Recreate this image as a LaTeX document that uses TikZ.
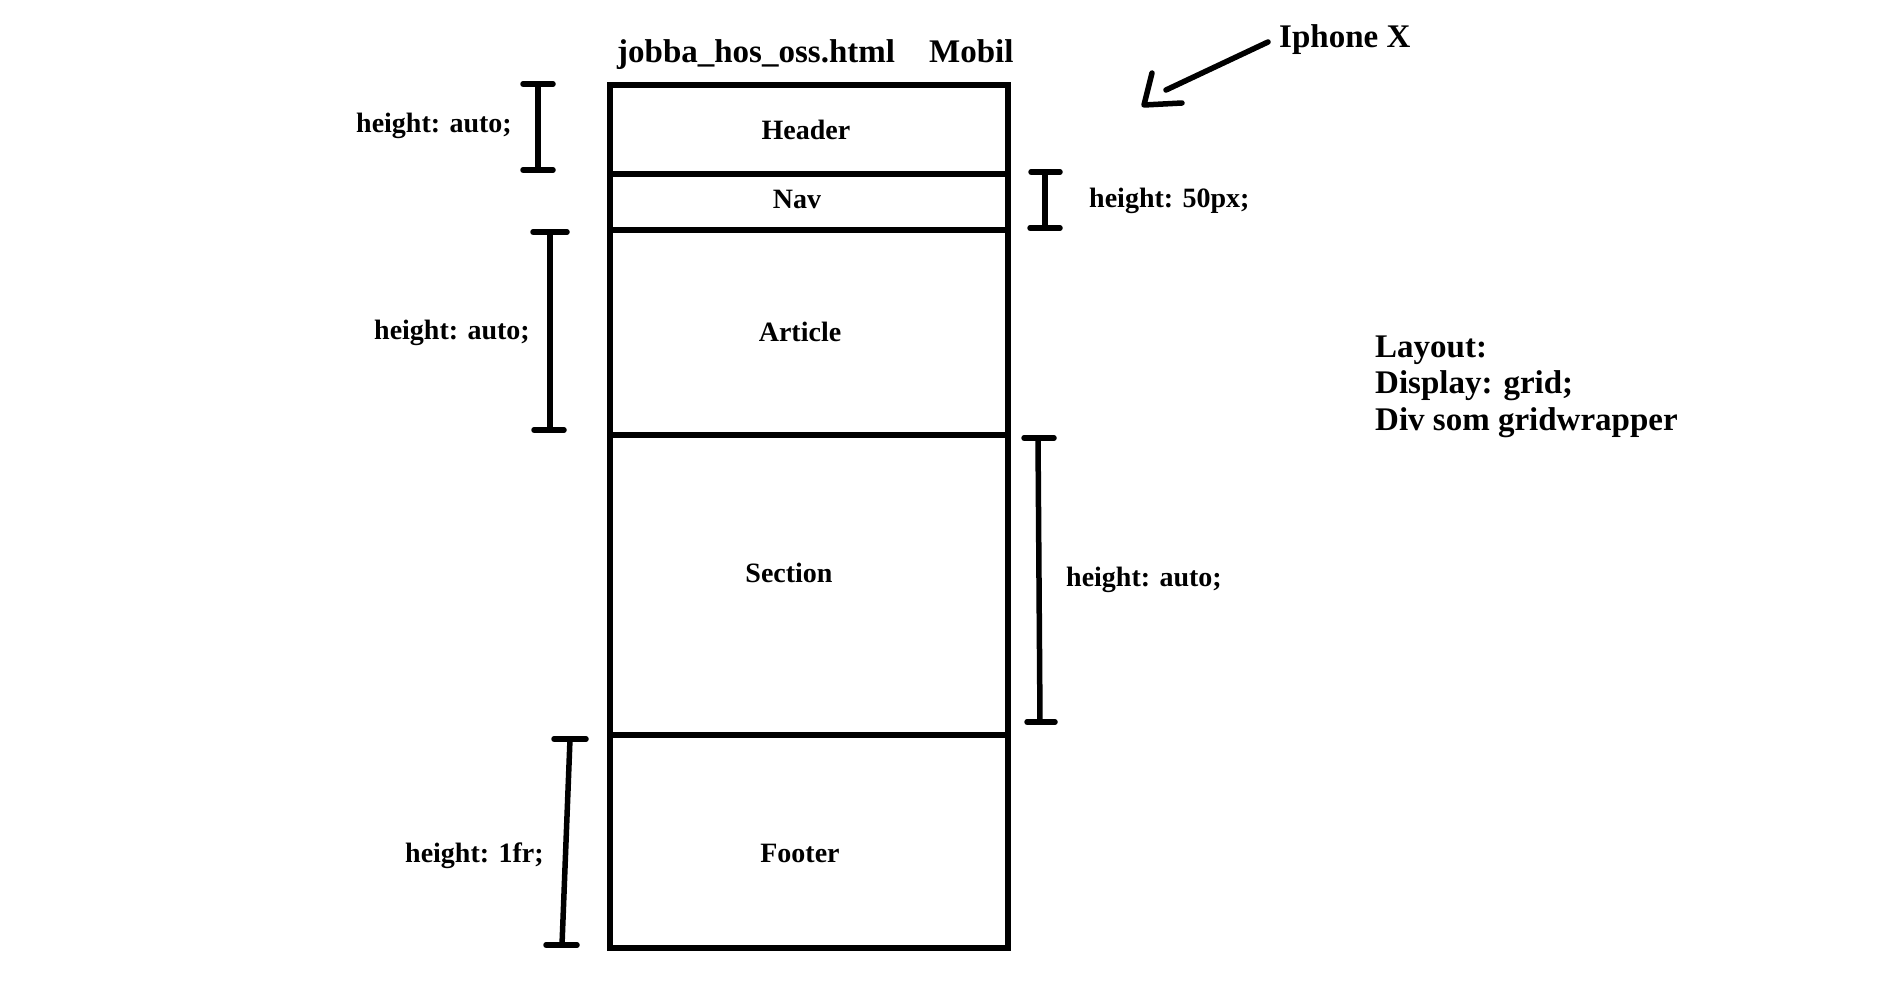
\documentclass[tikz,border=0pt]{standalone}
\usepackage{fontspec}
\setmainfont{Liberation Serif}
\tikzset{
  ink/.style={line width=5.5pt, line cap=round, black},
  cell/.style={draw, line width=5.5pt, minimum width=398pt, inner sep=0pt, outer sep=0pt},
  lbl/.style={font=\fontsize{28}{34}\selectfont\bfseries, inner sep=0pt},
  big/.style={font=\fontsize{33}{40}\selectfont\bfseries, inner sep=0pt},
}
\begin{document}
\begin{tikzpicture}[x=1pt,y=-1pt]
\useasboundingbox[fill=white] (0,0) rectangle (1886,982);
% boxes
\node[cell, minimum height=89pt]  (header)  at (809,129.5) {};
\node[cell, minimum height=56pt]  (nav)     at (809,202) {};
\node[cell, minimum height=205pt] (article) at (809,332.5) {};
\node[cell, minimum height=300pt] (section) at (809,585) {};
\node[cell, minimum height=213pt] (footer)  at (809,841.5) {};
% box labels
\node[lbl, anchor=base] (headerT)  at (806,139) {Header};
\node[lbl, anchor=base] (navT)     at (797,208) {Nav};
\node[lbl, anchor=base] (articleT) at (800,341) {Article};
\node[lbl, anchor=base] (sectionT) at (789,582) {Section};
\node[lbl, anchor=base] (footerT)  at (800,862) {Footer};
% titles
\node[big, anchor=base west] (file)   at (617,63) {jobba\_hos\_oss.html};
\node[big, anchor=base west] (mobil)  at (929,63) {Mobil};
\node[big, anchor=base west] (iphone) at (1279,48) {Iphone X};
% layout text
\node[big, anchor=base west] (lay1) at (1375,357) {Layout:};
\node[big, anchor=base west] (lay2) at (1375,393) {Display: grid;};
\node[big, anchor=base west] (lay3) at (1375,430) {Div som gridwrapper};
% height labels
\node[lbl, anchor=base west] (h1) at (356,132) {height: auto;};
\node[lbl, anchor=base west] (h2) at (374,339) {height: auto;};
\node[lbl, anchor=base west] (h3) at (1089,207) {height: 50px;};
\node[lbl, anchor=base west] (h4) at (1066,586) {height: auto;};
\node[lbl, anchor=base west] (h5) at (405,862) {height: 1fr;};
% bracket coordinates
\coordinate (b1t) at (538,84);   \coordinate (b1b) at (538,170);
\coordinate (b2t) at (550,232);  \coordinate (b2b) at (550,430);
\coordinate (b3t) at (1045,172); \coordinate (b3b) at (1045,228);
\coordinate (b4t) at (1038,438); \coordinate (b4b) at (1040,722);
\coordinate (b5t) at (570,739);  \coordinate (b5b) at (562,945);
% brackets
\draw[ink] (b1t) -- (b1b);
\draw[ink] ([xshift=-15pt]b1t) -- ([xshift=15pt]b1t);
\draw[ink] ([xshift=-15pt]b1b) -- ([xshift=15pt]b1b);
\draw[ink] (b2t) -- (b2b);
\draw[ink] ([xshift=-17pt]b2t) -- ([xshift=17pt]b2t);
\draw[ink] ([xshift=-16pt]b2b) -- ([xshift=14pt]b2b);
\draw[ink] (b3t) -- (b3b);
\draw[ink] ([xshift=-14pt]b3t) -- ([xshift=15pt]b3t);
\draw[ink] ([xshift=-15pt]b3b) -- ([xshift=15pt]b3b);
\draw[ink] (b4t) -- (b4b);
\draw[ink] ([xshift=-14pt]b4t) -- ([xshift=16pt]b4t);
\draw[ink] ([xshift=-13pt]b4b) -- ([xshift=15pt]b4b);
\draw[ink] (b5t) -- (b5b);
\draw[ink] ([xshift=-16pt]b5t) -- ([xshift=16pt]b5t);
\draw[ink] ([xshift=-16pt]b5b) -- ([xshift=15pt]b5b);
% arrow
\coordinate (a0) at (1268,42);
\coordinate (a1) at (1166,90);
\coordinate (ah1) at (1152,73);
\coordinate (ah2) at (1144,105);
\coordinate (ah3) at (1182,103);
\draw[ink] (a0) -- (a1);
\draw[ink, line join=round] (ah1) -- (ah2) -- (ah3);
\end{tikzpicture}
\end{document}
